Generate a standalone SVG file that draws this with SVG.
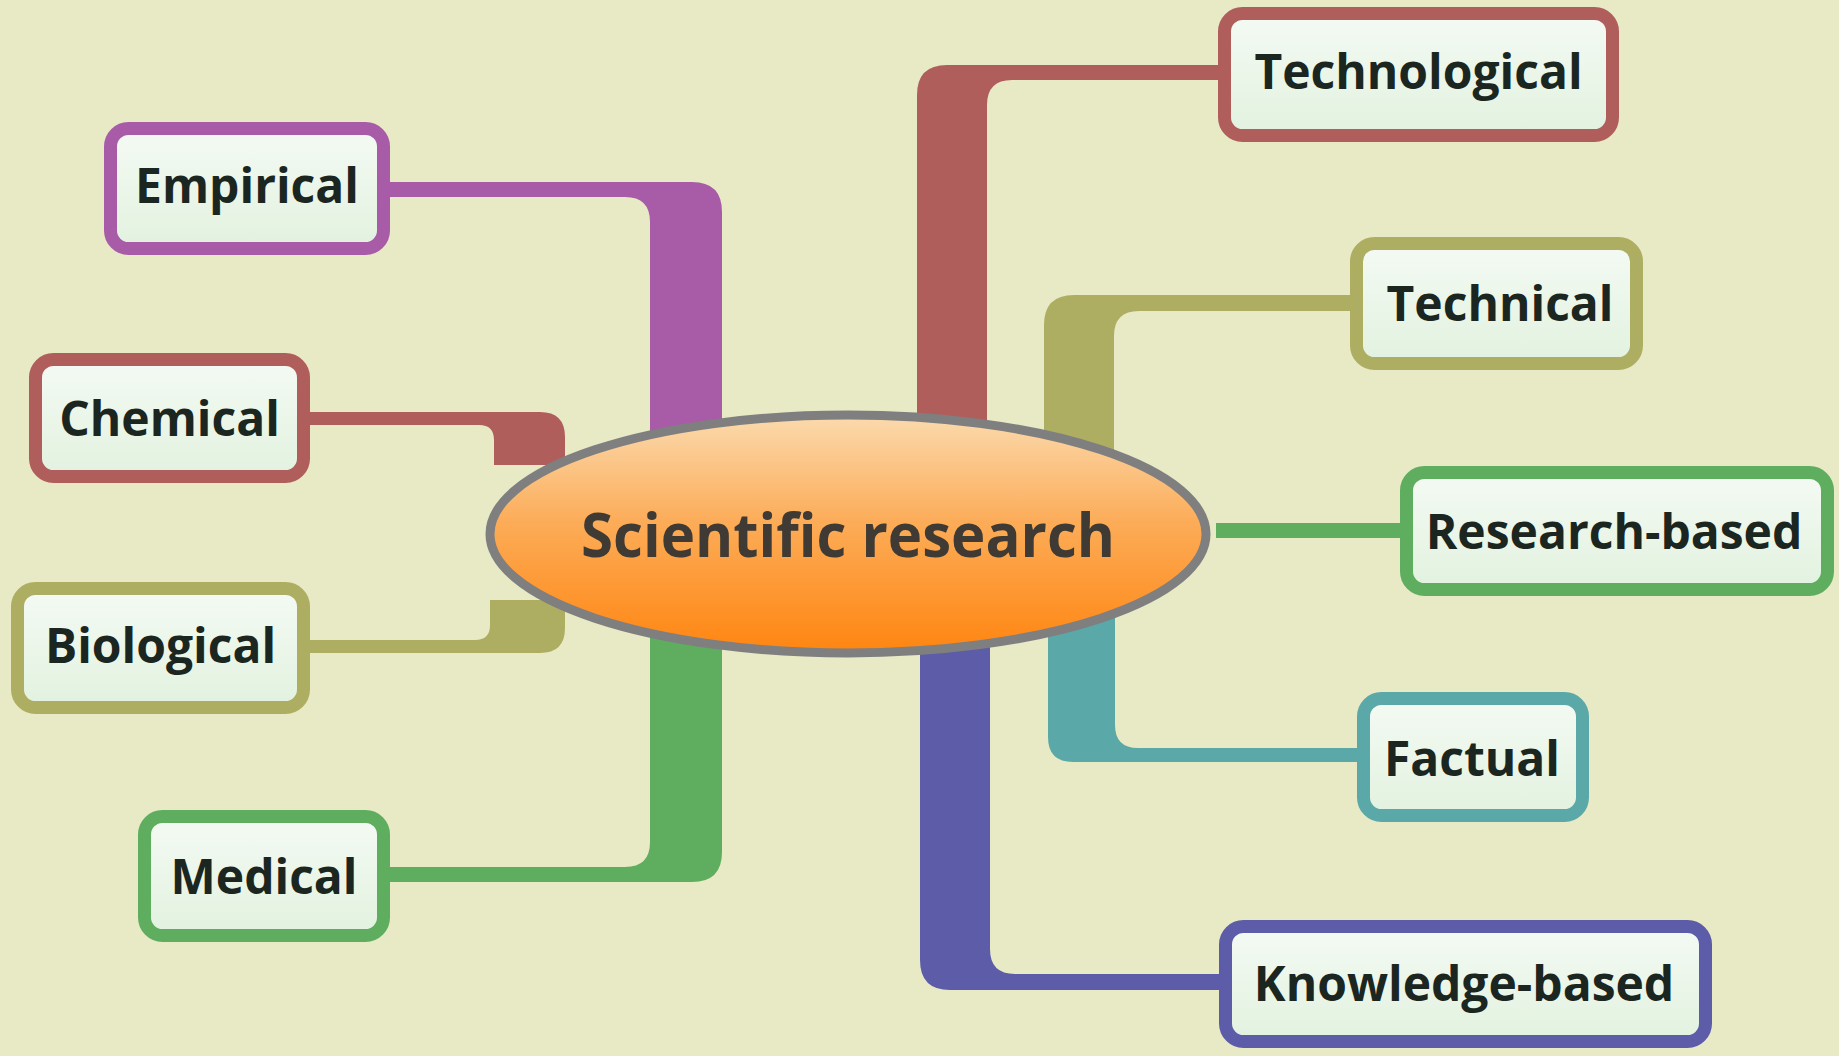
<svg xmlns="http://www.w3.org/2000/svg" width="1839" height="1056" viewBox="0 0 1839 1056">
<defs>
<linearGradient id="boxfill" x1="0" y1="0" x2="0" y2="1">
<stop offset="0" stop-color="#F4FAF4"/>
<stop offset="1" stop-color="#E2F2DF"/>
</linearGradient>
<linearGradient id="ellfill" x1="0" y1="0" x2="0" y2="1">
<stop offset="0" stop-color="#FBDAAE"/>
<stop offset="0.45" stop-color="#FCAC58"/>
<stop offset="1" stop-color="#FF8510"/>
</linearGradient>
<style>
.box{fill:url(#boxfill);stroke-width:13}
.lbl{font-family:"Open Sans","Noto Sans","Liberation Sans",sans-serif;font-weight:700;font-size:48px;fill:#1B2620;text-anchor:middle}
.purple{fill:#A85CA8;stroke:#A85CA8}
.red{fill:#B05E5C;stroke:#B05E5C}
.olive{fill:#AEAE62;stroke:#AEAE62}
.green{fill:#5FAE5F;stroke:#5FAE5F}
.teal{fill:#5AA8A8;stroke:#5AA8A8}
.blue{fill:#5C5CA8;stroke:#5C5CA8}
.conn path,.conn rect{stroke:none}
</style>
</defs>
<rect x="0" y="0" width="1839" height="1056" fill="#E8E9C5"/>
<g id="connectors" class="conn">
<path class="purple" d="M385 182 H692 Q722 182 722 212 V460 H650 V222 Q650 197 625 197 H385 Z"/>
<path class="red" d="M305 412 H540 Q565 412 565 437 V465 H494 V440 Q494 425 479 425 H305 Z"/>
<path class="olive" d="M305 653 H540 Q565 653 565 628 V600 H490 V625 Q490 640 475 640 H305 Z"/>
<path class="green" d="M385 882 H692 Q722 882 722 852 V610 H650 V842 Q650 867 625 867 H385 Z"/>
<path class="red" d="M1225 65 H947 Q917 65 917 95 V440 H987 V105 Q987 80 1012 80 H1225 Z"/>
<path class="olive" d="M1355 295 H1074 Q1044 295 1044 325 V460 H1114 V336 Q1114 311 1139 311 H1355 Z"/>
<rect class="green" x="1216" y="523" width="189" height="15"/>
<path class="teal" d="M1362 762 H1073 Q1048 762 1048 737 V610 H1115 V725 Q1115 748 1138 748 H1362 Z"/>
<path class="blue" d="M1225 990 H950 Q920 990 920 960 V620 H990 V949 Q990 974 1015 974 H1225 Z"/>
</g>
<g id="center">
<ellipse cx="848" cy="534" rx="358" ry="119" fill="url(#ellfill)" stroke="#7F7F7F" stroke-width="9"/>
<text x="848" y="557" font-family="'Open Sans','Noto Sans','Liberation Sans',sans-serif" font-weight="700" font-size="61" fill="#3F3A33" text-anchor="middle" textLength="534" lengthAdjust="spacingAndGlyphs">Scientific research</text>
</g>
<g id="empirical">
<rect class="box purple" x="110.5" y="128.5" width="273" height="120" rx="18" style="fill:url(#boxfill)"/>
<text class="lbl" x="247" y="203">Empirical</text>
</g>
<g id="chemical">
<rect class="box red" x="35.5" y="359.5" width="268" height="117" rx="18" style="fill:url(#boxfill)"/>
<text class="lbl" x="169.5" y="436">Chemical</text>
</g>
<g id="biological">
<rect class="box olive" x="17.5" y="588.5" width="286" height="119" rx="18" style="fill:url(#boxfill)"/>
<text class="lbl" x="160.5" y="663">Biological</text>
</g>
<g id="medical">
<rect class="box green" x="144.5" y="816.5" width="239" height="119" rx="18" style="fill:url(#boxfill)"/>
<text class="lbl" x="264" y="894">Medical</text>
</g>
<g id="technological">
<rect class="box red" x="1224.5" y="13.5" width="388" height="122" rx="18" style="fill:url(#boxfill)"/>
<text class="lbl" x="1418.5" y="89">Technological</text>
</g>
<g id="technical">
<rect class="box olive" x="1356.5" y="243.5" width="280" height="120" rx="18" style="fill:url(#boxfill)"/>
<text class="lbl" x="1500" y="321">Technical</text>
</g>
<g id="research-based">
<rect class="box green" x="1406.5" y="472.5" width="421" height="117" rx="18" style="fill:url(#boxfill)"/>
<text class="lbl" x="1614" y="549">Research-based</text>
</g>
<g id="factual">
<rect class="box teal" x="1363.5" y="698.5" width="219" height="117" rx="18" style="fill:url(#boxfill)"/>
<text class="lbl" x="1472" y="776">Factual</text>
</g>
<g id="knowledge-based">
<rect class="box blue" x="1225.5" y="926.5" width="480" height="115" rx="18" style="fill:url(#boxfill)"/>
<text class="lbl" x="1464" y="1001">Knowledge-based</text>
</g>
</svg>
